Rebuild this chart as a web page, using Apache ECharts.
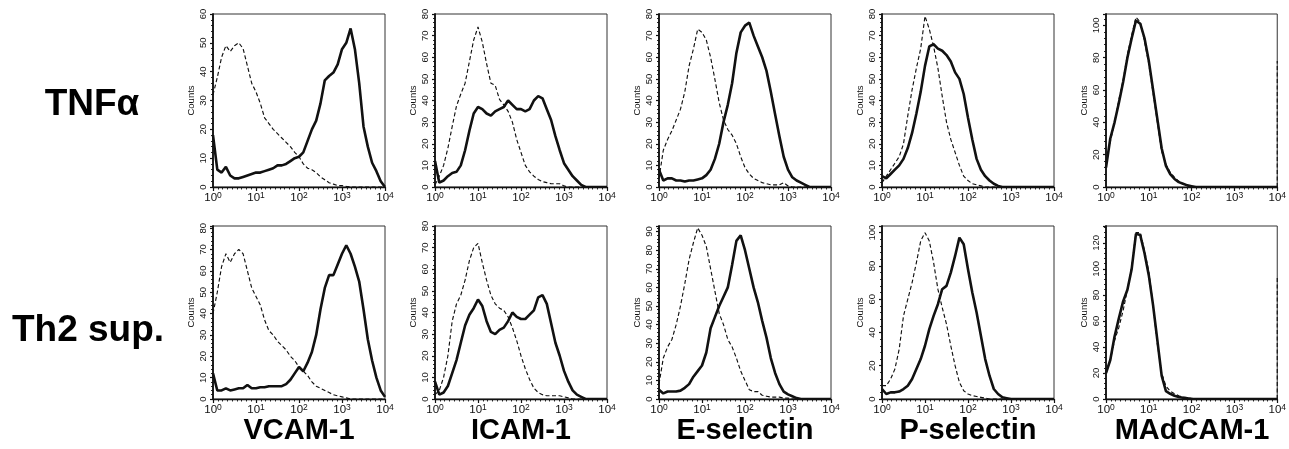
<!DOCTYPE html>
<html>
<head>
<meta charset="utf-8">
<style>
  html, body { margin: 0; padding: 0; background: #fff; }
  #chart { width: 1289px; height: 449px; }
</style>
<script src="https://cdn.jsdelivr.net/npm/echarts@6/dist/echarts.min.js"></script>
</head>
<body>
<div id="chart"></div>
<script>
// ---- DATA ----
// Fluorescence intensity sample grid (log10 decades, 10^0 .. 10^4)
const logGrid = [0,0.1,0.2,0.3,0.4,0.5,0.6,0.7,0.8,0.9,1.0,1.1,1.2,1.3,1.4,1.5,1.6,1.7,1.8,1.9,2.0,
                 2.1,2.2,2.3,2.4,2.5,2.6,2.7,2.8,2.9,3.0,3.1,3.2,3.3,3.4,3.5,3.6,3.7,3.8,3.9,4.0];
const decadeTicks = [0, 1, 2, 3, 4];
const rowLabels = ['TNFα', 'Th2 sup.'];
const colLabels = ['VCAM-1', 'ICAM-1', 'E-selectin', 'P-selectin', 'MAdCAM-1'];
const yAxisName = 'Counts';

// Row 1: TNFα
const vcamTnf      = [18,6,5,7,4,3,3,3.5,4,4.5,5, 5,5.5,6,6.5,7.5,7.5,8,9,10,10.5, 12,16,20,23,29,37,38.5,39.7,42.5,47.8, 50,55,47.8,36,21,14,8.4,5.5,2,0];
const vcamTnfCtrl  = [32,38,45,49,47,49,50,48,42,36,33, 29,24,22,20,18.5,17,15.5,14,12,10.5, 8,6.5,6,5,3.5,2.5,1.5,1,0.5,0.5, 0.2,0,0,0,0,0,0,0,0,0];
const icamTnf      = [12,2,3,5,6.5,7,10,17,26,34,37, 36,34,33,35,36,37,40,38,36,36, 35,36,40,42,41,36,31,23.5,17,11, 8,5,3,1,0,0,0,0,0,0];
const icamTnfCtrl  = [1,5,10,18,28,37.5,43,48,58,68,74, 67,57,48,47,40.5,38,35,30,22,16, 10,7,5,3.5,2.5,2,1.5,1.5,1.5,0.5, 0,0,0,0,0,0,0,0,0,0];
const eselTnf      = [8,3,4,4,3,3,2.5,3,3,3.5,4, 5.5,8,13,20,30,38,48,62,71.5,74.6, 76,70,65,60,53.7,44,33.6,23.5,14,8, 4.5,3,2,1,0,0,0,0,0,0];
const eselTnfCtrl  = [4,17,22,26,31,36,44,56,63.8,73,71.5, 68,60,49.8,39,31,26.6,24,20,14,9, 6,4,3,2,1.5,1,1,1,2,0.5, 0,0,0,0,0,0,0,0,0,0];
const pselTnf      = [5,4,6,8,10,13,18,25,34,44,56, 65,66,64,63,61,58,53,50,43,32, 22,13,8,5,3,1.5,0.5,0,0,0, 0,0,0,0,0,0,0,0,0,0];
const pselTnfCtrl  = [2,5,8,11,14,20,33,45,55,64,79, 73,65,55,42,30,22,16,10,5,3, 1.5,1,0.5,0,0,0,0,0,0,0, 0,0,0,0,0,0,0,0,0,0];
const madTnf       = [12,30,40,52,65,80,92,103,101,92,78, 60,42,24,13,8,5,3,2,1,0.5, 0,0,0,0,0,0,0,0,0,0, 0,0,0,0,0,0,0,0,0,0];
const madTnfCtrl   = [15,28,40,54,66,82,94,105,102,90,76, 58,40,22,14,9,6,3.5,2,1,0.5, 0,0,0,0,0,0,0,0,0,0, 0,0,0,0,0,0,0,0,0,0];

// Row 2: Th2 supernatant
const vcamTh2      = [12,4,4,5,4,4.5,5,5,6.6,5,5, 5.5,5.5,6,6,6,6,7,9,12,15, 13,17,22,30,42,52,58,58,63,68, 72,68,62,55,42,28,18,10,4,1];
const vcamTh2Ctrl  = [40,50,62,68,64,68,70,68,60,52,48, 44,37,32,30,27,25,23,20,18,15, 13,11,8,6,5,4,3,2,1.5,1, 0.5,0,0,0,0,0,0,0,0,0];
const icamTh2      = [8,2,3,6,12,18,26,34,39,42,46, 43,36,31,30,32,33,36,40,38,37, 37,39,41,47,48,44,35,26,20,13, 8,4,2,1,0,0,0,0,0,0];
const icamTh2Ctrl  = [2,4,10,20,36,44,48,55,64,70,72, 63,55,48,44,42,41,38,33,27,20, 14,9,5,3,2,1.5,1.5,1.5,1.5,1, 0.5,0,0,0,0,0,0,0,0,0];
const eselTh2      = [5,3,4,4,4,4.5,6,8,12,15,18, 25,38,44,50,55,60,72,85,88,80, 70,60,52,42,33,22,14,8,4,2.5, 1.5,0.5,0,0,0,0,0,0,0,0];
const eselTh2Ctrl  = [8,22,28,32,40,50,62,75,84,92,88, 82,70,58,46,40,32,28,22,15,10, 5,4,4,2,1.5,1,1,1,0.5,0.5, 0,0,0,0,0,0,0,0,0,0];
const pselTh2      = [6,3,4,4,4.5,6,8,12,18,24,32, 42,50,57,66,68,76,86,97,93,78, 64,52,38,24,14,6,3,1,0.5,0, 0,0,0,0,0,0,0,0,0,0];
const pselTh2Ctrl  = [8,8,12,18,30,50,60,70,82,95,100, 95,82,66,55,45,32,20,10,5,3, 2,1.5,1,0.5,0,0,0,0,0,0, 0,0,0,0,0,0,0,0,0,0];
const madTh2       = [20,30,48,62,75,84,100,127,126,112,95, 72,45,18,6,4,2.5,1.5,1,0.5,0, 0,0,0,0,0,0,0,0,0,0, 0,0,0,0,0,0,0,0,0,0];
const madTh2Ctrl   = [20,30,45,55,68,84,102,128,128,114,98, 72,42,20,10,6,4,2.5,1.5,1,0.5, 0,0,0,0,0,0,0,0,0,0, 0,0,0,0,0,0,0,0,0,0];
// Counts piled in the last channel (10^4) of the MAdCAM-1 control histograms
const madOverflowCtrl = [78, 95];

// Y axis ranges per panel [row][col]
const yMax      = [[60, 80, 80, 80, 107], [81, 80, 93, 104, 133]];
const yInterval = [[10, 10, 10, 10, 20],  [10, 10, 10, 20, 20]];

const solidData = [[vcamTnf, icamTnf, eselTnf, pselTnf, madTnf], [vcamTh2, icamTh2, eselTh2, pselTh2, madTh2]];
const ctrlData  = [[vcamTnfCtrl, icamTnfCtrl, eselTnfCtrl, pselTnfCtrl, madTnfCtrl], [vcamTh2Ctrl, icamTh2Ctrl, eselTh2Ctrl, pselTh2Ctrl, madTh2Ctrl]];

// ---- LAYOUT ----
const colLeft = [213, 435, 659, 882, 1106];
const rowTop = [14, 226];
const plotW = 172, plotH = 173;
const FONT = '"Liberation Sans", Arial, Helvetica, sans-serif';
const INK = '#111';

const grids = [], xAxes = [], yAxes = [], series = [];
let idx = 0;
for (let r = 0; r < 2; r++) {
  for (let c = 0; c < 5; c++) {
    grids.push({
      left: colLeft[c], top: rowTop[r], width: plotW, height: plotH,
      show: true, borderColor: '#333', borderWidth: 1, backgroundColor: 'transparent'
    });
    xAxes.push({
      gridIndex: idx, type: 'value', min: decadeTicks[0], max: decadeTicks[decadeTicks.length - 1], interval: 1,
      axisLine: { onZero: false, lineStyle: { color: INK, width: 1.4 } },
      axisTick: { show: true, length: 4, inside: false, lineStyle: { color: INK, width: 1.2 } },
      minorTick: { show: true, splitNumber: 9, length: 2.5, lineStyle: { color: INK, width: 0.9 } },
      splitLine: { show: false },
      axisLabel: {
        margin: 4, color: INK,
        formatter: v => '{b|10}{s|' + v + '}',
        rich: {
          b: { fontSize: 11.5, fontFamily: FONT, color: INK, lineHeight: 14 },
          s: { fontSize: 8.5, fontFamily: FONT, color: INK, verticalAlign: 'top', lineHeight: 14 }
        }
      }
    });
    const mx = yMax[r][c], iv = yInterval[r][c];
    yAxes.push({
      gridIndex: idx, type: 'value', min: 0, max: mx, interval: iv,
      name: yAxisName, nameLocation: 'middle', nameGap: 17, nameRotate: 90,
      nameTextStyle: { fontSize: 9.5, fontFamily: FONT, color: INK },
      axisLine: { show: true, lineStyle: { color: INK, width: 1.8 } },
      axisTick: { show: true, length: 3, lineStyle: { color: INK, width: 1.2 } },
      minorTick: { show: true, splitNumber: 5, length: 2, lineStyle: { color: INK, width: 0.9 } },
      splitLine: { show: false },
      axisLabel: {
        rotate: 90, fontSize: 9.5, fontFamily: FONT, color: INK, margin: 5,
        showMaxLabel: mx % iv === 0
      }
    });
    series.push({
      type: 'line', xAxisIndex: idx, yAxisIndex: idx, showSymbol: false, symbol: 'none',
      data: logGrid.map((x, i) => [x, ctrlData[r][c][i]]),
      lineStyle: { color: INK, width: 1.15, type: [4, 2.5] }, z: 2, silent: true
    });
    series.push({
      type: 'line', xAxisIndex: idx, yAxisIndex: idx, showSymbol: false, symbol: 'none',
      data: logGrid.map((x, i) => [x, solidData[r][c][i]]),
      lineStyle: { color: INK, width: 2.6 }, z: 3, silent: true
    });
    if (c === 4) {
      const last = decadeTicks[decadeTicks.length - 1];
      series.push({
        type: 'line', xAxisIndex: idx, yAxisIndex: idx, showSymbol: false, symbol: 'none',
        data: [[last, 0], [last, madOverflowCtrl[r]]],
        lineStyle: { color: INK, width: 1.15, type: [4, 2.5] }, z: 2, silent: true
      });
    }
    idx++;
  }
}

const graphics = [];
const rowLabelX = [92, 88], rowLabelY = [105, 331];
rowLabels.forEach((t, r) => graphics.push({
  type: 'text', x: rowLabelX[r], y: rowLabelY[r],
  style: { text: t, fontSize: 37, fontWeight: 'bold', fontFamily: FONT, fill: '#000', textAlign: 'center', textVerticalAlign: 'middle' }
}));
colLabels.forEach((t, c) => graphics.push({
  type: 'text', x: colLeft[c] + plotW / 2, y: 431,
  style: { text: t, fontSize: 29, fontWeight: 'bold', fontFamily: FONT, fill: '#000', textAlign: 'center', textVerticalAlign: 'middle' }
}));

const chart = echarts.init(document.getElementById('chart'), null, { renderer: 'canvas' });
chart.setOption({
  animation: false,
  backgroundColor: '#fff',
  grid: grids, xAxis: xAxes, yAxis: yAxes, series: series,
  graphic: graphics
});
</script>
</body>
</html>
